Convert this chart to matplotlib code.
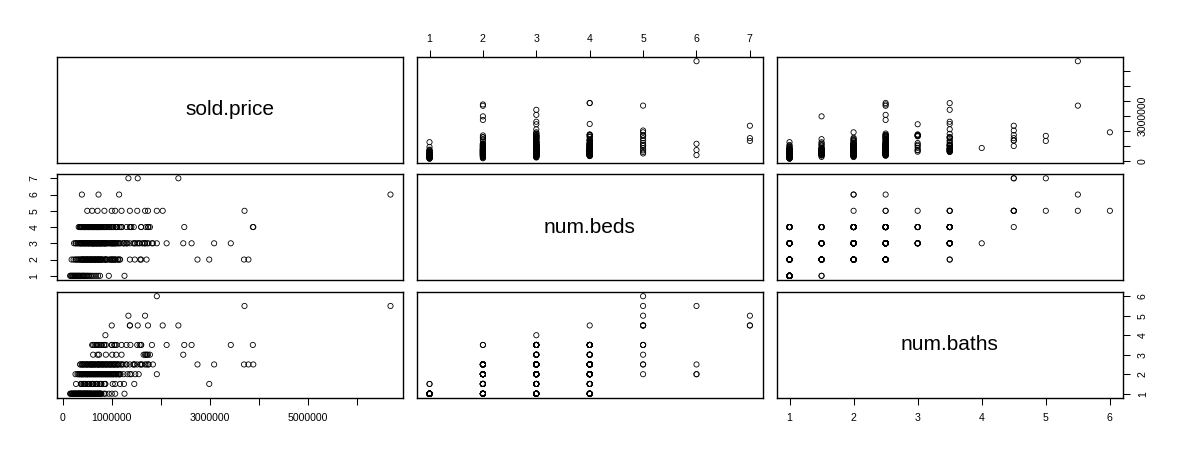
import matplotlib
matplotlib.use("Agg")
import matplotlib.pyplot as plt
import numpy as np

plt.rcParams['font.family'] = ['Liberation Sans', 'DejaVu Sans']

var_names = ["sold.price", "num.beds", "num.baths"]

# sold price (thousands of dollars) for each (beds, baths) combination
b1_ba1 = [150, 165, 180, 195, 210, 225, 240, 255, 270, 285, 300, 315, 330, 345, 360, 380,
          400, 420, 440, 460, 480, 500, 520, 545, 570, 640, 680, 720, 760, 940, 1260]
b1_ba15 = [420, 600]
b2_ba1 = [180, 220, 260, 300, 340, 380, 420, 460, 500, 540, 580, 620, 660, 700, 740, 780, 870, 1070]
b2_ba15 = [270, 390, 430, 470, 510, 550, 590, 630, 670, 710, 750, 790, 870, 1020, 1170, 2990]
b2_ba2 = [320, 360, 400, 440, 480, 520, 560, 600, 640, 680, 720, 760, 800, 840, 880, 920,
          960, 1000, 1040, 1080, 1120, 1160, 1370]
b2_ba25 = [410, 490, 570, 650, 730, 810, 890, 970, 1050, 1130, 1470, 1580, 1710, 2750, 3700, 3790]
b2_ba35 = [1000, 1600]
b3_ba1 = [230, 270, 310, 350, 390, 430, 470, 510, 550, 590, 630, 670, 710, 750, 790, 840, 1000]
b3_ba15 = [370, 450, 530, 610, 690, 770, 850, 1070, 1250, 1460]
b3_ba2 = [260, 300, 340, 380, 420, 460, 500, 540, 580, 620, 660, 700, 740, 780, 820, 860,
          900, 940, 980, 1020, 1060, 1100, 1140, 1180, 1240, 1320, 1480, 1550, 1920]
b3_ba25 = [360, 400, 440, 480, 520, 560, 600, 640, 680, 720, 760, 800, 840, 880, 920, 960,
           1000, 1040, 1080, 1120, 1160, 1240, 1300, 1370, 1440, 1520, 1620, 1680, 1750, 1840, 3090]
b3_ba3 = [620, 880, 1010, 1650, 1680, 1720, 2460]
b3_ba35 = [600, 650, 700, 750, 800, 1050, 1300, 1570, 1820, 2120, 2630, 3430]
b3_ba4 = [870]
b4_ba1 = [325, 365, 405, 445, 485, 525, 565, 605, 645, 685, 725, 765]
b4_ba15 = [375, 455, 535, 615, 695, 775, 855]
b4_ba2 = [345, 385, 425, 465, 505, 545, 585, 625, 665, 705, 745, 785, 825, 865, 905, 945,
          985, 1025, 1085, 1160, 1400]
b4_ba25 = [355, 395, 435, 475, 515, 555, 595, 635, 675, 715, 755, 795, 835, 875, 915, 955,
           995, 1035, 1075, 1115, 1200, 1300, 1450, 1600, 1750, 3890]
b4_ba3 = [740, 1090, 1200, 1700, 1740, 1780]
b4_ba35 = [620, 680, 720, 780, 840, 880, 1000, 1100, 1200, 1380, 1600, 2480, 3880]
b4_ba45 = [1370]
b5_ba2 = [500]
b5_ba25 = [600, 1200]
b5_ba3 = [710]
b5_ba35 = [850, 1070, 1520]
b5_ba45 = [1000, 1370, 1740, 2040]
b5_ba5 = [1680]
b5_ba55 = [3710]
b5_ba6 = [1920]
b6_ba2 = [390, 1150]
b6_ba25 = [730]
b6_ba55 = [6690]
b7_ba45 = [1530, 2360]
b7_ba5 = [1340]

groups = [
    (1, 1.0, b1_ba1), (1, 1.5, b1_ba15),
    (2, 1.0, b2_ba1), (2, 1.5, b2_ba15), (2, 2.0, b2_ba2), (2, 2.5, b2_ba25), (2, 3.5, b2_ba35),
    (3, 1.0, b3_ba1), (3, 1.5, b3_ba15), (3, 2.0, b3_ba2), (3, 2.5, b3_ba25), (3, 3.0, b3_ba3),
    (3, 3.5, b3_ba35), (3, 4.0, b3_ba4),
    (4, 1.0, b4_ba1), (4, 1.5, b4_ba15), (4, 2.0, b4_ba2), (4, 2.5, b4_ba25), (4, 3.0, b4_ba3),
    (4, 3.5, b4_ba35), (4, 4.5, b4_ba45),
    (5, 2.0, b5_ba2), (5, 2.5, b5_ba25), (5, 3.0, b5_ba3), (5, 3.5, b5_ba35), (5, 4.5, b5_ba45),
    (5, 5.0, b5_ba5), (5, 5.5, b5_ba55), (5, 6.0, b5_ba6),
    (6, 2.0, b6_ba2), (6, 2.5, b6_ba25), (6, 5.5, b6_ba55),
    (7, 4.5, b7_ba45), (7, 5.0, b7_ba5),
]

price_ticks = [0, 1000000, 2000000, 3000000, 4000000, 5000000, 6000000]
price_bottom_labels = ["0", "1000000", "", "3000000", "", "5000000", ""]
price_right_labels = ["0", "", "", "3000000", "", "", ""]
beds_ticks = [1, 2, 3, 4, 5, 6, 7]
baths_ticks = [1, 2, 3, 4, 5, 6]

sold_price = np.concatenate([np.asarray(p, float) * 1000 for _, _, p in groups])
num_beds = np.concatenate([np.full(len(p), b, float) for b, _, p in groups])
num_baths = np.concatenate([np.full(len(p), ba, float) for _, ba, p in groups])
data = [sold_price, num_beds, num_baths]


def rlim(v):
    lo, hi = v.min(), v.max()
    r = hi - lo
    return lo - 0.04 * r, hi + 0.04 * r


W, H = 1180, 455
fig = plt.figure(figsize=(W / 100, H / 100), dpi=100)
col_left = [57.3, 416.7, 776.7]
row_top = [57.3, 174.4, 292.3]
pw, ph = 346.0, 105.3

TL = 5.0
TW = 0.75
FS = 7.6

axes = [[None] * 3 for _ in range(3)]
for i in range(3):
    for j in range(3):
        ax = fig.add_axes([col_left[j] / W, 1 - (row_top[i] + ph) / H, pw / W, ph / H])
        axes[i][j] = ax
        for s in ax.spines.values():
            s.set_linewidth(1.0)
        ax.set_xlim(rlim(data[j]))
        ax.set_ylim(rlim(data[i]))
        ax.tick_params(which='both', bottom=False, top=False, left=False, right=False,
                       labelbottom=False, labeltop=False, labelleft=False, labelright=False,
                       length=TL, width=TW, labelsize=FS, direction='out')
        if i == j:
            ax.set_xticks([])
            ax.set_yticks([])
            ax.text(0.5, 0.5, var_names[i], transform=ax.transAxes, ha='center', va='center',
                    fontsize=15)
        else:
            ax.scatter(data[j], data[i], s=14, marker='o', facecolors='none',
                       edgecolors='black', linewidths=0.6)

# axes on the outside, alternating as in pairs()
ax = axes[2][0]
ax.set_xticks(price_ticks)
ax.set_xticklabels(price_bottom_labels)
ax.tick_params(axis='x', bottom=True, labelbottom=True, pad=6.0)

ax = axes[0][1]
ax.set_xticks(beds_ticks)
ax.set_xticklabels([str(t) for t in beds_ticks])
ax.tick_params(axis='x', top=True, labeltop=True, pad=4.4)

ax = axes[2][2]
ax.set_xticks(baths_ticks)
ax.set_xticklabels([str(t) for t in baths_ticks])
ax.tick_params(axis='x', bottom=True, labelbottom=True, pad=6.0)

ax = axes[1][0]
ax.set_yticks(beds_ticks)
ax.set_yticklabels([str(t) for t in beds_ticks])
ax.tick_params(axis='y', left=True, labelleft=True, pad=7.8, labelrotation=90)

ax = axes[0][2]
ax.set_yticks(price_ticks)
ax.set_yticklabels(price_right_labels)
ax.tick_params(axis='y', right=True, labelright=True, pad=6.0, labelrotation=90)

ax = axes[2][2]
ax.set_yticks(baths_ticks)
ax.set_yticklabels([str(t) for t in baths_ticks])
ax.tick_params(axis='y', right=True, labelright=True, pad=6.0, labelrotation=90)

for ax_ in (axes[0][2], axes[2][2]):
    for t in ax_.yaxis.get_major_ticks():
        t.label2.set_va('center')
for t in axes[1][0].yaxis.get_major_ticks():
    t.label1.set_va('center')

fig.savefig("out.png", dpi=100, facecolor='white')
